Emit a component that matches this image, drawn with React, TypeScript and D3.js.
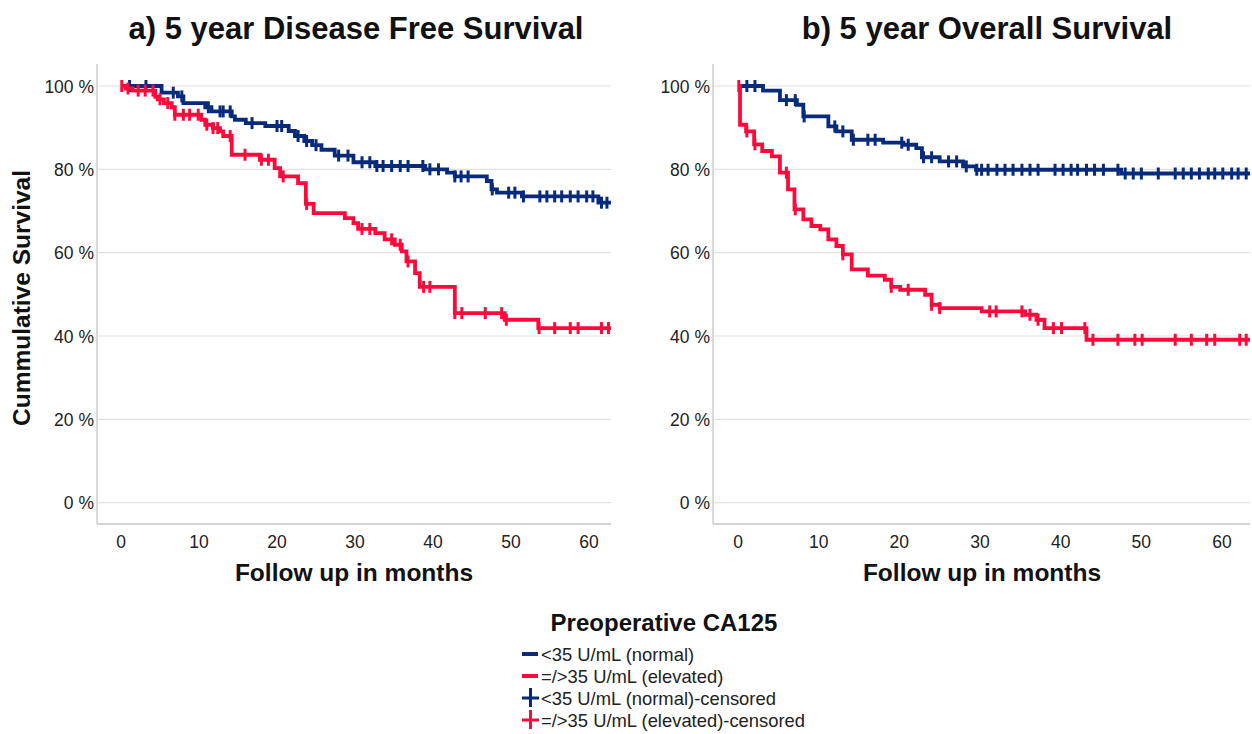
import React from "react";
import * as d3 from "d3";

// ---------- data ----------
const yTicks = [0, 20, 40, 60, 80, 100];
const xTicks = [0, 10, 20, 30, 40, 50, 60];

// a) Disease free survival
const dfsNormalTimes = [0, 5.2, 7.3, 8.0, 10.8, 11.6, 14.2, 14.6, 16.0, 18.5, 21.5, 22.3, 23.5, 24.5, 25.7, 27.4, 29.8, 32.6, 39.0, 41.8, 42.8, 46.9, 47.5, 48.2, 51.4, 61.2];
const dfsNormalSurv = [100, 98.4, 97.5, 95.9, 94.9, 93.9, 92.7, 91.9, 91.1, 90.4, 89.2, 88.0, 86.8, 85.8, 84.7, 83.3, 81.7, 80.8, 80.0, 79.2, 78.3, 77.2, 75.2, 74.4, 73.5, 72.0];
const dfsNormalCens = [1.1, 3.2, 6.7, 7.8, 11.2, 12.7, 13.1, 14.0, 16.8, 20.0, 20.6, 22.7, 23.8, 25.0, 27.9, 29.1, 30.9, 31.9, 32.8, 33.6, 34.7, 35.8, 36.8, 38.7, 39.6, 40.7, 42.8, 43.6, 44.5, 47.6, 49.7, 50.5, 51.6, 53.7, 54.6, 55.6, 56.5, 57.6, 58.6, 59.7, 60.5, 61.6, 62.3];

const dfsElevTimes = [0, 0.6, 1.5, 4.4, 4.7, 5.5, 6.5, 6.9, 10.3, 10.8, 11.8, 12.7, 13.1, 14.2, 17.8, 19.7, 20.4, 22.7, 23.7, 24.7, 28.7, 29.8, 30.4, 32.6, 33.8, 35.1, 36.0, 36.6, 37.7, 38.3, 42.8, 49.2, 53.5];
const dfsElevSurv = [100, 99.4, 98.9, 97.4, 96.8, 95.9, 94.9, 93.1, 91.9, 90.7, 89.9, 89.1, 88.0, 83.5, 82.3, 80.3, 78.3, 76.7, 71.7, 69.5, 68.3, 67.1, 65.7, 64.7, 63.2, 61.9, 60.3, 57.9, 55.1, 51.8, 45.5, 43.9, 41.9];
const dfsElevCens = [0.1, 0.9, 2.2, 3.1, 4.1, 5.0, 6.0, 6.9, 8.0, 8.8, 9.9, 11.0, 11.8, 12.4, 14.0, 15.9, 18.0, 18.9, 20.8, 23.8, 30.9, 31.9, 34.7, 35.8, 36.8, 38.8, 39.6, 42.8, 43.7, 46.7, 48.8, 49.4, 53.6, 55.6, 57.6, 58.6, 61.6, 62.5];

// b) Overall survival
const osNormalTimes = [0, 3.1, 5.2, 7.3, 8.1, 11.2, 12.2, 14.1, 18.0, 20.5, 22.1, 22.8, 25.0, 27.9, 29.5, 47.5];
const osNormalSurv = [100, 98.9, 96.6, 95.5, 92.7, 90.3, 89.1, 87.1, 86.4, 85.9, 85.1, 82.9, 81.9, 80.7, 79.9, 79.0];
const osNormalCens = [1.1, 2.1, 6.0, 7.1, 8.2, 12.0, 13.0, 14.3, 16.1, 17.0, 20.3, 21.1, 23.0, 24.0, 26.1, 27.1, 28.3, 29.6, 30.2, 31.0, 32.1, 33.1, 34.1, 35.2, 36.2, 37.2, 39.3, 40.3, 41.3, 42.1, 43.2, 44.2, 45.3, 47.1, 48.0, 49.0, 50.0, 52.1, 54.2, 55.2, 56.2, 57.2, 58.3, 59.1, 60.1, 61.2, 62.0, 63.0];

const osElevTimes = [0, 0.25, 1.0, 2.0, 3.0, 4.2, 5.2, 6.2, 7.0, 8.1, 9.1, 10.2, 11.2, 12.2, 13.0, 14.1, 16.1, 18.2, 19.0, 20.1, 23.2, 24.0, 25.0, 30.2, 35.6, 37.0, 38.0, 43.2];
const osElevSurv = [100, 90.7, 89.1, 86.0, 84.4, 83.1, 79.2, 75.2, 70.4, 68.0, 66.4, 65.6, 63.2, 61.6, 59.6, 56.0, 54.5, 53.5, 51.8, 51.1, 49.9, 47.5, 46.7, 45.9, 45.1, 43.9, 41.9, 39.1];
const osElevCens = [0.1, 1.1, 2.1, 6.0, 7.1, 13.0, 19.0, 21.1, 24.0, 25.0, 31.2, 32.0, 35.2, 36.2, 37.2, 39.1, 40.1, 43.0, 44.0, 47.1, 49.2, 50.1, 54.2, 56.2, 58.1, 59.1, 62.2, 63.0];

const legendLabels = ["<35 U/mL (normal)", "=/>35 U/mL (elevated)", "<35 U/mL (normal)-censored", "=/>35 U/mL (elevated)-censored"];

// ---------- style ----------
const W = 1252, H = 734;
const BLUE = "#082a7a";
const RED = "#fd0a3c";
const FONT = "'Liberation Sans', Arial, sans-serif";
const GRID = "#e2e2e2";
const AXIS = "#c6c6c6";
const TXT = "#222";

type Curve = { times: number[]; surv: number[]; cens: number[]; color: string };

function survAt(times: number[], surv: number[], t: number) {
  let v = surv[0];
  for (let i = 0; i < times.length; i++) if (times[i] <= t) v = surv[i];
  return v;
}

function Panel(props: {
  title: string; titleX: number; left: number; right: number; x0: number; x60: number;
  xTitleX: number; curves: Curve[];
}) {
  const { title, titleX, left, right, x0, x60, xTitleX, curves } = props;
  const x = d3.scaleLinear().domain([0, 60]).range([x0, x60]);
  const y = d3.scaleLinear().domain([0, 100]).range([502.7, 86]);
  const top = 64, bottom = 524;
  const tEnd = x.invert(right);
  const line = d3.line<[number, number]>().x(d => x(d[0])).y(d => y(d[1])).curve(d3.curveStepAfter);
  return (
    <g>
      <text x={titleX} y={39} textAnchor="middle" fontFamily={FONT} fontWeight="bold" fontSize={31} fill="#111">{title}</text>
      {yTicks.map(v => (
        <line key={"g" + v} x1={left} x2={right} y1={y(v)} y2={y(v)} stroke={GRID} strokeWidth={1.2} />
      ))}
      <line x1={left} x2={left} y1={top} y2={bottom} stroke={AXIS} strokeWidth={1.3} />
      <line x1={left} x2={right} y1={bottom} y2={bottom} stroke={AXIS} strokeWidth={1.3} />
      {yTicks.map(v => (
        <text key={"yl" + v} x={left - 3} y={y(v) + 6.5} textAnchor="end" fontFamily={FONT} fontSize={17.5} fill={TXT}>{v + " %"}</text>
      ))}
      {xTicks.map(v => (
        <text key={"xl" + v} x={x(v)} y={548} textAnchor="middle" fontFamily={FONT} fontSize={17.5} fill={TXT}>{v}</text>
      ))}
      <text x={xTitleX} y={581} textAnchor="middle" fontFamily={FONT} fontWeight="bold" fontSize={24.5} fill="#111">Follow up in months</text>
      {curves.map((c, ci) => {
        const pts: [number, number][] = c.times.map((t, i) => [t, c.surv[i]] as [number, number]);
        pts.push([tEnd, c.surv[c.surv.length - 1]]);
        return (
          <g key={"c" + ci}>
            <path d={line(pts) || ""} fill="none" stroke={c.color} strokeWidth={3.8} />
            {c.cens.map((t, i) => {
              const yy = y(survAt(c.times, c.surv, t));
              const xx = x(t);
              return <line key={i} x1={xx} x2={xx} y1={yy - 6} y2={yy + 6} stroke={c.color} strokeWidth={3} />;
            })}
          </g>
        );
      })}
    </g>
  );
}

export default function App() {
  const legendY = [654, 676, 698, 720];
  const colors = [BLUE, RED, BLUE, RED];
  return (
    <svg width={W} height={H} style={{ position: "absolute", left: 0, top: 0, background: "#fff" }}>
      <rect x={0} y={0} width={W} height={H} fill="#fff" />
      <Panel
        title="a) 5 year Disease Free Survival" titleX={356}
        left={97} right={611} x0={121} x60={589} xTitleX={354}
        curves={[
          { times: dfsNormalTimes, surv: dfsNormalSurv, cens: dfsNormalCens, color: BLUE },
          { times: dfsElevTimes, surv: dfsElevSurv, cens: dfsElevCens, color: RED },
        ]}
      />
      <Panel
        title="b) 5 year Overall Survival" titleX={987}
        left={713} right={1250} x0={738} x60={1222} xTitleX={982}
        curves={[
          { times: osNormalTimes, surv: osNormalSurv, cens: osNormalCens, color: BLUE },
          { times: osElevTimes, surv: osElevSurv, cens: osElevCens, color: RED },
        ]}
      />
      <text transform="translate(30,298) rotate(-90)" textAnchor="middle" fontFamily={FONT} fontWeight="bold" fontSize={24.5} fill="#111">Cummulative Survival</text>
      <text x={664} y={631} textAnchor="middle" fontFamily={FONT} fontWeight="bold" fontSize={24} fill="#111">Preoperative CA125</text>
      {legendLabels.map((lab, i) => {
        const cy = legendY[i];
        const c = colors[i];
        return (
          <g key={lab}>
            {i < 2 ? (
              <line x1={522} x2={538} y1={cy} y2={cy} stroke={c} strokeWidth={4} />
            ) : (
              <g>
                <line x1={522} x2={539} y1={cy} y2={cy} stroke={c} strokeWidth={3} />
                <line x1={530.5} x2={530.5} y1={cy - 10} y2={cy + 9} stroke={c} strokeWidth={3} />
              </g>
            )}
            <text x={541} y={cy + 6.5} fontFamily={FONT} fontSize={18.4} fill={TXT}>{lab}</text>
          </g>
        );
      })}
    </svg>
  );
}
